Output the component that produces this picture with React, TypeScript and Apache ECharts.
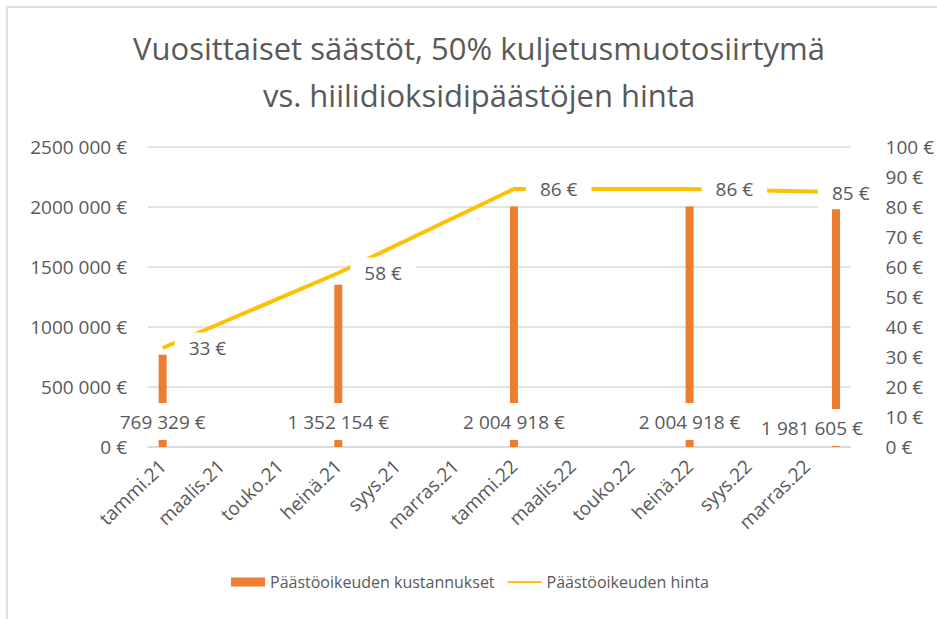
import React, { useEffect, useRef } from "react";
import * as echarts from "echarts";

const titleLines = ["Vuosittaiset säästöt, 50% kuljetusmuotosiirtymä", "vs. hiilidioksidipäästöjen hinta"];

const months = [
  "tammi.21", "helmi.21", "maalis.21", "huhti.21", "touko.21", "kesä.21",
  "heinä.21", "elo.21", "syys.21", "loka.21", "marras.21", "joulu.21",
  "tammi.22", "helmi.22", "maalis.22", "huhti.22", "touko.22", "kesä.22",
  "heinä.22", "elo.22", "syys.22", "loka.22", "marras.22", "joulu.22",
];

const costs: (number | null)[] = [
  769329, null, null, null, null, null,
  1352154, null, null, null, null, null,
  2004918, null, null, null, null, null,
  2004918, null, null, null, null, 1981605,
];

const prices: (number | null)[] = [
  33, null, null, null, null, null,
  58, null, null, null, null, null,
  86, null, null, null, null, null,
  86, null, null, null, null, 85,
];

const seriesNames = ["Päästöoikeuden kustannukset", "Päästöoikeuden hinta"];

const TEXT = "#595959";
const GRID = "#d9d9d9";
const FONT = "'Open Sans', 'Noto Sans', sans-serif";

function groupThousands(v: number): string {
  const s = Math.round(v).toString();
  return s.replace(/\B(?=(\d{3})+(?!\d))/g, " ");
}

function axisEuro(v: number): string {
  if (v >= 1000) {
    const rest = String(v % 1000).padStart(3, "0");
    return `${Math.floor(v / 1000)} ${rest} €`;
  }
  return `${v} €`;
}

export default function App() {
  const ref = useRef<HTMLDivElement>(null);
  useEffect(() => {
    if (!ref.current) return;
    const chart = echarts.init(ref.current, undefined, { renderer: "svg" });
    const lastIdx = months.length - 1;
    const barData = costs.map((v, i) =>
      v === null
        ? "-"
        : i === lastIdx
        ? { value: v, label: { offset: [-24, 6] } }
        : v
    );
    const lineData = prices.map((v, i) =>
      v === null
        ? "-"
        : i === lastIdx
        ? { value: v, label: { offset: [-30, 1] } }
        : v
    );
    chart.setOption({
      animation: false,
      textStyle: { fontFamily: FONT },
      graphic: [
        {
          type: "polyline",
          shape: { points: [[7, 619], [7, 7], [937, 7]] },
          style: { stroke: "#e0e0e0", lineWidth: 2, fill: "none" },
        },
        {
          type: "text",
          x: 479,
          y: 48,
          style: {
            text: titleLines[0],
            fill: TEXT,
            font: `31px ${FONT}`,
            textAlign: "center",
            textVerticalAlign: "middle",
          },
        },
        {
          type: "text",
          x: 479,
          y: 95,
          style: {
            text: titleLines[1],
            fill: TEXT,
            font: `31px ${FONT}`,
            textAlign: "center",
            textVerticalAlign: "middle",
          },
        },
      ],
      legend: {
        bottom: 24,
        left: 226,
        itemGap: 12,
        itemWidth: 34,
        itemHeight: 9,
        textStyle: { color: TEXT, fontSize: 16, fontFamily: FONT },
        data: [
          { name: seriesNames[0], icon: "rect" },
          { name: seriesNames[1], itemStyle: { opacity: 0 } },
        ],
      },
      grid: { left: 148, right: 84, top: 147, bottom: 172, containLabel: false },
      xAxis: {
        type: "category",
        data: months,
        boundaryGap: true,
        axisLine: { lineStyle: { color: GRID, width: 1.5 } },
        axisTick: { show: false },
        axisLabel: {
          interval: 1,
          rotate: 44,
          margin: 16,
          color: TEXT,
          fontSize: 19,
          fontFamily: FONT,
        },
      },
      yAxis: [
        {
          type: "value",
          min: 0,
          max: 2500000,
          interval: 500000,
          axisLine: { show: false },
          axisTick: { show: false },
          splitLine: { lineStyle: { color: GRID, width: 1.5 } },
          axisLabel: {
            formatter: axisEuro,
            color: TEXT,
            fontSize: 19,
            margin: 21,
            fontFamily: FONT,
          },
        },
        {
          type: "value",
          min: 0,
          max: 100,
          interval: 10,
          position: "right",
          axisLine: { show: false },
          axisTick: { show: false },
          splitLine: { show: false },
          axisLabel: {
            formatter: (v: number) => `${v} €`,
            color: TEXT,
            fontSize: 19,
            margin: 35,
            fontFamily: FONT,
          },
        },
      ],
      series: [
        {
          name: seriesNames[0],
          type: "bar",
          yAxisIndex: 0,
          data: barData,
          barWidth: 8,
          itemStyle: { color: "#ED7D31" },
          label: {
            show: true,
            position: "insideBottom",
            distance: 7,
            formatter: (p: any) => `${groupThousands(p.value)} €`,
            color: TEXT,
            fontSize: 19,
            fontFamily: FONT,
            backgroundColor: "#ffffff",
            padding: [9, 4],
          },
        },
        {
          name: seriesNames[1],
          type: "line",
          yAxisIndex: 1,
          data: lineData,
          connectNulls: true,
          showSymbol: true,
          symbol: "circle",
          symbolSize: 0.01,
          lineStyle: { color: "#FFC000", width: 4 },
          itemStyle: { color: "#FFC000" },
          label: {
            show: true,
            position: "right",
            distance: 12,
            formatter: (p: any) => `${p.value} €`,
            color: TEXT,
            fontSize: 19,
            fontFamily: FONT,
            backgroundColor: "#ffffff",
            padding: [6, 14],
          },
        },
      ],
    });
    return () => chart.dispose();
  }, []);
  return (
    <div
      ref={ref}
      style={{ position: "fixed", left: 0, top: 0, width: 937, height: 619, background: "#fff" }}
    />
  );
}
